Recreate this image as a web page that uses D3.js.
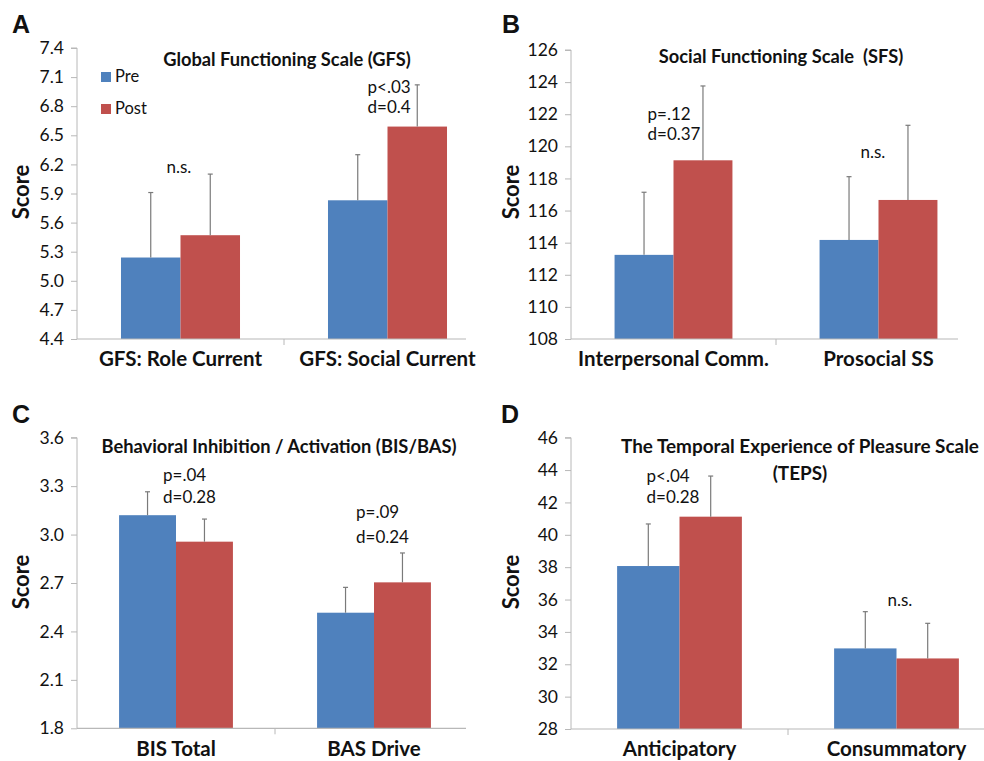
<!DOCTYPE html>
<html>
<head>
<meta charset="utf-8">
<script src="https://cdn.jsdelivr.net/npm/d3@7"></script>
<style>
  html, body { margin: 0; padding: 0; background: #fff; }
  svg { display: block; }
  text { font-family: Lato, "Open Sans", sans-serif; fill: #111; }
</style>
</head>
<body>
<svg id="chart" width="984" height="761"></svg>
<script>
// ---------- DATA ----------
const seriesNames = ["Pre", "Post"];

// Panel A: Global Functioning Scale
const gfsCategories = ["GFS: Role Current", "GFS: Social Current"];
const gfsPre = [5.24, 5.83];
const gfsPost = [5.47, 6.59];
const gfsPreErr = [0.67, 0.47];
const gfsPostErr = [0.63, 0.43];
const gfsTicks = [4.4, 4.7, 5.0, 5.3, 5.6, 5.9, 6.2, 6.5, 6.8, 7.1, 7.4];

// Panel B: Social Functioning Scale
const sfsCategories = ["Interpersonal Comm.", "Prosocial SS"];
const sfsPre = [113.24, 114.17];
const sfsPost = [119.13, 116.66];
const sfsPreErr = [3.9, 3.94];
const sfsPostErr = [4.63, 4.65];
const sfsTicks = [108, 110, 112, 114, 116, 118, 120, 122, 124, 126];

// Panel C: BIS/BAS
const bisCategories = ["BIS Total", "BAS Drive"];
const bisPre = [3.12, 2.516];
const bisPost = [2.956, 2.704];
const bisPreErr = [0.145, 0.157];
const bisPostErr = [0.14, 0.182];
const bisTicks = [1.8, 2.1, 2.4, 2.7, 3.0, 3.3, 3.6];

// Panel D: TEPS
const tepsCategories = ["Anticipatory", "Consummatory"];
const tepsPre = [38.07, 32.98];
const tepsPost = [41.12, 32.36];
const tepsPreErr = [2.6, 2.27];
const tepsPostErr = [2.51, 2.17];
const tepsTicks = [28, 30, 32, 34, 36, 38, 40, 42, 44, 46];

// ---------- LAYOUT / STYLE ----------
const colors = { Pre: "#4F81BD", Post: "#C0504D" };
const axisColor = "#b8b8b8";
const errColor = "#7a7a7a";

const panels = [
  {
    letter: "A", letterX: 12, letterY: 33,
    title: ["Global Functioning Scale (GFS)"], titleX: 287, titleY: 66, titleSize: 18.3,
    categories: gfsCategories, pre: gfsPre, post: gfsPost, preErr: gfsPreErr, postErr: gfsPostErr,
    ticks: gfsTicks, fmt: d3.format(".1f"),
    x0: 77, divider: 284, axisEnd: 466, yTop: 48, yBottom: 339,
    scoreX: 21, scoreY: 192, catLabelY: 366,
    legend: true,
    notes: [
      { cat: 0, lines: ["n.s."], v: [6.11], dx: -14 },
      { cat: 1, lines: ["p<.03", "d=0.4"], v: [6.94, 6.73], dx: -20 }
    ]
  },
  {
    letter: "B", letterX: 502, letterY: 33,
    title: ["Social Functioning Scale\u00a0\u00a0(SFS)"], titleX: 781, titleY: 63, titleSize: 18.3,
    categories: sfsCategories, pre: sfsPre, post: sfsPost, preErr: sfsPreErr, postErr: sfsPostErr,
    ticks: sfsTicks, fmt: d3.format("d"),
    x0: 571, divider: 776, axisEnd: 958, yTop: 50, yBottom: 339,
    scoreX: 511, scoreY: 192, catLabelY: 366,
    legend: false,
    notes: [
      { cat: 0, lines: ["p=.12", "d=0.37"], v: [121.64, 120.40], dx: -26 },
      { cat: 1, lines: ["n.s."], v: [119.28], dx: -18 }
    ]
  },
  {
    letter: "C", letterX: 12, letterY: 423,
    title: ["Behavioral Inhibition / Activation (BIS/BAS)"], titleX: 279, titleY: 453, titleSize: 18.3,
    categories: bisCategories, pre: bisPre, post: bisPost, preErr: bisPreErr, postErr: bisPostErr,
    ticks: bisTicks, fmt: d3.format(".1f"),
    x0: 77, divider: 275, axisEnd: 466, yTop: 437.7, yBottom: 728.3,
    scoreX: 21, scoreY: 582, catLabelY: 756,
    legend: false,
    notes: [
      { cat: 0, lines: ["p=.04", "d=0.28"], v: [3.332, 3.197], dx: -13 },
      { cat: 1, lines: ["p=.09", "d=0.24"], v: [3.104, 2.948], dx: -18 }
    ]
  },
  {
    letter: "D", letterX: 501, letterY: 423,
    title: ["The Temporal Experience of Pleasure Scale", "(TEPS)"], titleX: 800, titleY: 453, titleY2: 480, titleSize: 18.9,
    categories: tepsCategories, pre: tepsPre, post: tepsPost, preErr: tepsPreErr, postErr: tepsPostErr,
    ticks: tepsTicks, fmt: d3.format("d"),
    x0: 571, divider: 788, axisEnd: 984, yTop: 437.7, yBottom: 729,
    scoreX: 511, scoreY: 582, catLabelY: 756,
    legend: false,
    notes: [
      { cat: 0, lines: ["p<.04", "d=0.28"], v: [43.28, 41.96], dx: -33 },
      { cat: 1, lines: ["n.s."], v: [35.6], dx: -9 }
    ]
  }
];

const svg = d3.select("#chart");

panels.forEach(p => {
  const g = svg.append("g");
  const catW = p.divider - p.x0;
  const x = d3.scaleBand().domain(p.categories)
    .range([p.x0, p.x0 + 2 * catW]).paddingInner(0.425).paddingOuter(0.2125);
  const xs = d3.scaleBand().domain(seriesNames).range([0, x.bandwidth()]);
  const y = d3.scaleLinear()
    .domain([p.ticks[0], p.ticks[p.ticks.length - 1]])
    .range([p.yBottom, p.yTop]);

  const rows = [];
  p.categories.forEach((c, i) => {
    rows.push({ cat: c, s: "Pre", v: p.pre[i], e: p.preErr[i] });
    rows.push({ cat: c, s: "Post", v: p.post[i], e: p.postErr[i] });
  });

  // y axis
  const yAxis = d3.axisLeft(y).tickValues(p.ticks).tickFormat(p.fmt).tickSize(6).tickPadding(7);
  const ya = g.append("g").attr("transform", `translate(${p.x0},0)`).call(yAxis);
  ya.select(".domain").attr("stroke", axisColor).attr("d", `M-6,${p.yTop}H0V${p.yBottom}`);
  ya.selectAll(".tick line").attr("stroke", axisColor);
  ya.selectAll(".tick text").attr("font-size", 17.5).attr("fill", "#111")
    .style("font-family", "Lato, sans-serif");

  // bars
  g.selectAll("rect.bar").data(rows).join("rect")
    .attr("class", "bar")
    .attr("x", d => x(d.cat) + xs(d.s))
    .attr("width", xs.bandwidth())
    .attr("y", d => y(d.v))
    .attr("height", d => y(p.ticks[0]) - y(d.v))
    .attr("fill", d => colors[d.s]);

  // error bars (upper only)
  const eg = g.selectAll("g.err").data(rows).join("g").attr("class", "err")
    .attr("stroke", errColor).attr("stroke-width", 1.2);
  eg.append("line")
    .attr("x1", d => x(d.cat) + xs(d.s) + xs.bandwidth() / 2)
    .attr("x2", d => x(d.cat) + xs(d.s) + xs.bandwidth() / 2)
    .attr("y1", d => y(d.v)).attr("y2", d => y(d.v + d.e));
  eg.append("line")
    .attr("x1", d => x(d.cat) + xs(d.s) + xs.bandwidth() / 2 - 2.5)
    .attr("x2", d => x(d.cat) + xs(d.s) + xs.bandwidth() / 2 + 2.5)
    .attr("y1", d => y(d.v + d.e)).attr("y2", d => y(d.v + d.e));

  // x axis line + divider tick
  g.append("line").attr("x1", p.x0).attr("x2", p.axisEnd)
    .attr("y1", p.yBottom).attr("y2", p.yBottom).attr("stroke", axisColor).attr("stroke-width", 1.2);
  g.append("line").attr("x1", p.divider).attr("x2", p.divider)
    .attr("y1", p.yBottom).attr("y2", p.yBottom + 6).attr("stroke", axisColor);

  // category labels
  g.selectAll("text.cat").data(p.categories).join("text")
    .attr("class", "cat")
    .attr("x", d => x(d) + x.bandwidth() / 2)
    .attr("y", p.catLabelY)
    .attr("text-anchor", "middle")
    .attr("font-size", 20.5).attr("font-weight", "bold")
    .text(d => d);

  // title
  g.append("text").attr("x", p.titleX).attr("y", p.titleY)
    .attr("text-anchor", "middle").attr("font-size", p.titleSize).attr("font-weight", "bold")
    .text(p.title[0]);
  if (p.title.length > 1) {
    g.append("text").attr("x", p.titleX).attr("y", p.titleY2)
      .attr("text-anchor", "middle").attr("font-size", p.titleSize).attr("font-weight", "bold")
      .text(p.title[1]);
  }

  // Score label
  g.append("text")
    .attr("transform", `translate(${p.scoreX + 8},${p.scoreY}) rotate(-90)`)
    .attr("text-anchor", "middle").attr("font-size", 22).attr("font-weight", "bold")
    .text("Score");

  // panel letter
  g.append("text").attr("x", p.letterX).attr("y", p.letterY)
    .attr("font-size", 25).attr("font-weight", "bold")
    .style("font-family", "Arial, 'Liberation Sans', sans-serif")
    .text(p.letter);

  // annotations
  p.notes.forEach(n => {
    const cx = x(p.categories[n.cat]) + x.bandwidth() / 2 + n.dx;
    n.lines.forEach((t, k) => {
      g.append("text").attr("x", cx).attr("y", y(n.v[k]))
        .attr("font-size", 17).text(t);
    });
  });

  // legend
  if (p.legend) {
    const lg = g.append("g");
    seriesNames.forEach((s, k) => {
      lg.append("rect").attr("x", 101).attr("y", 72 + k * 32).attr("width", 10).attr("height", 10)
        .attr("fill", colors[s]);
      lg.append("text").attr("x", 115).attr("y", 82 + k * 32).attr("font-size", 16.5).text(s);
    });
  }
});
</script>
</body>
</html>
